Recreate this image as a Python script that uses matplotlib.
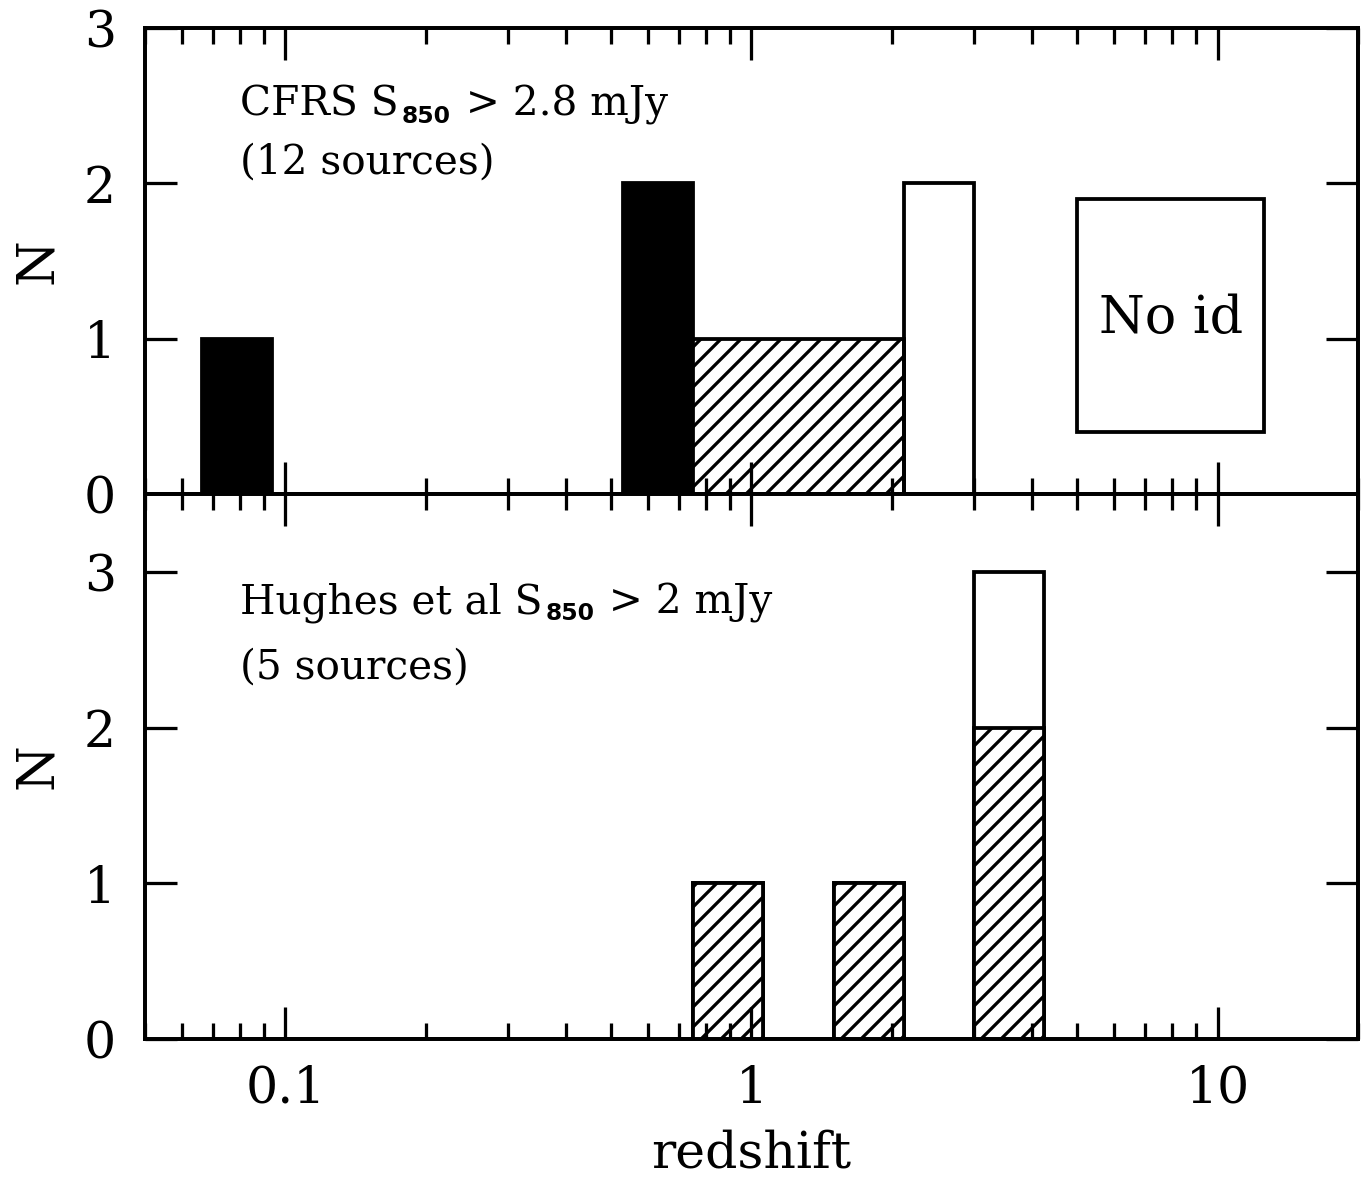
import matplotlib
matplotlib.use("Agg")
import matplotlib.pyplot as plt
from matplotlib.patches import Rectangle
from matplotlib.transforms import offset_copy
from matplotlib.ticker import FixedLocator, LogLocator, FuncFormatter, NullFormatter

# bin edges in redshift (factor sqrt(2) steps)
bin_edges = [0.0663, 0.0938, 0.1326, 0.1875, 0.2652, 0.375, 0.53, 0.75, 1.06, 1.5, 2.12, 3.0, 4.24]

# CFRS S850 > 2.8 mJy
cfrs_black = [1, 0, 0, 0, 0, 0, 2, 0, 0, 0, 0, 0]
cfrs_hatch = [0, 0, 0, 0, 0, 0, 0, 1, 1, 1, 0, 0]
cfrs_open = [0, 0, 0, 0, 0, 0, 0, 0, 0, 0, 2, 0]
noid_x = [5.0, 12.6]
noid_y = [0.4, 1.9]

# Hughes et al S850 > 2 mJy
hughes_hatch = [0, 0, 0, 0, 0, 0, 0, 1, 0, 1, 0, 2]
hughes_total = [0, 0, 0, 0, 0, 0, 0, 1, 0, 1, 0, 3]

x_ticks = [0.1, 1, 10]

# dpi chosen so that '//' hatch spacing (12 lines per inch) is ~10 px
DPI = 120
S = 130 / DPI  # sizes below were tuned in points at 130 dpi


def pt(v):
    return v * S


plt.rcParams['font.family'] = ['DejaVu Serif']
plt.rcParams['hatch.linewidth'] = pt(1.8)
plt.rcParams['axes.linewidth'] = pt(2.2)

fig = plt.figure(figsize=(1371 / DPI, 1180 / DPI), dpi=DPI)
left, right = 145 / 1371, 1358 / 1371
ax1 = fig.add_axes([left, 1 - 494 / 1180, right - left, (494 - 28) / 1180])
ax2 = fig.add_axes([left, 1 - 1039 / 1180, right - left, (1039 - 494) / 1180])
renderer = fig.canvas.get_renderer()

TXT = pt(22.5)
SUB = pt(13)


def label_line(ax, x, y, parts):
    # parts: (text, fontsize, extra kwargs, gap before in px, baseline shift in px)
    dx = 0.0
    for s, size, kw, gap, dy in parts:
        dx += gap
        tr = offset_copy(ax.transAxes, fig=fig, x=dx * 72 / DPI, y=dy * 72 / DPI, units='points')
        t = ax.text(x, y, s, transform=tr, fontsize=size, ha='left', va='baseline', **kw)
        dx += t.get_window_extent(renderer).width


sub = {'family': 'DejaVu Sans', 'weight': 'bold'}

lw = pt(2.1)
# top panel
ax1.stairs(cfrs_black, bin_edges, fill=True, facecolor='black', edgecolor='black', linewidth=lw)
ax1.stairs(cfrs_hatch, bin_edges, fill=True, facecolor='white', edgecolor='black', hatch='//', linewidth=lw)
ax1.stairs(cfrs_open, bin_edges, fill=True, facecolor='none', edgecolor='black', linewidth=lw)
ax1.add_patch(Rectangle((noid_x[0], noid_y[0]), noid_x[1] - noid_x[0], noid_y[1] - noid_y[0],
                        facecolor='none', edgecolor='black', linewidth=lw))
ax1.text(7.95, 1.13, 'No id', ha='center', va='center', fontsize=pt(29))
label_line(ax1, 0.0783, 0.812, [('CFRS S', TXT, {}, 0, 0),
                                ('850', SUB, sub, 3, -7),
                                (' > 2.8 mJy', TXT, {}, 2, 0)])
label_line(ax1, 0.0783, 0.687, [('(12 sources)', TXT, {}, 0, 0)])

# bottom panel
ax2.stairs(hughes_total, bin_edges, fill=True, facecolor='white', edgecolor='black', linewidth=lw)
ax2.stairs(hughes_hatch, bin_edges, fill=True, facecolor='white', edgecolor='black', hatch='//', linewidth=lw)
label_line(ax2, 0.0783, 0.781, [('Hughes et al S', TXT, {}, 0, 0),
                                ('850', SUB, sub, 3, -7),
                                (' > 2 mJy', TXT, {}, 2, 0)])
label_line(ax2, 0.0783, 0.661, [('(5 sources)', TXT, {}, 0, 0)])

for ax, ytop in ((ax1, 3), (ax2, 3.5)):
    ax.set_xscale('log')
    ax.set_xlim(0.05, 20)
    ax.set_ylim(0, ytop)
    ax.xaxis.set_major_locator(FixedLocator(x_ticks))
    ax.xaxis.set_minor_locator(LogLocator(base=10, subs=range(2, 10)))
    ax.xaxis.set_minor_formatter(NullFormatter())
    ax.yaxis.set_major_locator(FixedLocator([0, 1, 2, 3]))
    ax.tick_params(which='major', direction='in', length=pt(17.5), width=pt(1.8),
                   top=True, right=True, labelsize=pt(28))
    ax.tick_params(which='minor', direction='in', length=pt(8.8), width=pt(1.8),
                   top=True, right=True)
    ax.tick_params(axis='y', which='minor', left=False, right=False)
    ax.tick_params(axis='y', pad=pt(16))
    ax.set_ylabel('N', fontsize=pt(29))
    ax.yaxis.set_label_coords(-0.068, 0.5)

ax1.tick_params(axis='x', labelbottom=False)
ax2.xaxis.set_major_formatter(FuncFormatter(lambda v, p: '%g' % v))
ax2.tick_params(axis='x', pad=pt(14))
ax2.set_xlabel('redshift', fontsize=pt(28))
ax2.xaxis.set_label_coords(0.5, -0.165)

fig.savefig('out.png', dpi=DPI)
